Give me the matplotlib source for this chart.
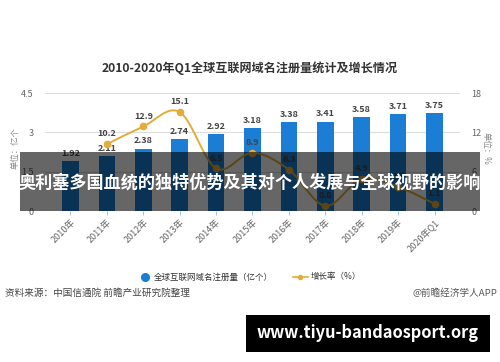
import numpy as np
import matplotlib
matplotlib.use("Agg")
import matplotlib.pyplot as plt
from matplotlib.path import Path
from matplotlib.patches import PathPatch, Rectangle

plt.rcParams['font.family'] = ['Noto Sans CJK SC', 'DejaVu Sans']

# 数据
years = ['2010年', '2011年', '2012年', '2013年', '2014年', '2015年',
         '2016年', '2017年', '2018年', '2019年', '2020年Q1']
domains = [1.92, 2.11, 2.38, 2.74, 2.92, 3.18, 3.38, 3.41, 3.58, 3.71, 3.75]
growth = [None, 10.2, 12.9, 15.1, 6.5, 8.9, 6.3, 0.8, 4.9, 3.7, 1.1]
left_ticks = [0, 1.5, 3, 4.5]
right_ticks = [0, 6, 12, 18]

bar_color = '#1b7dd3'
line_color = '#e3ad3b'
grey = '#666666'

fig = plt.figure(figsize=(5, 3.62), dpi=100)
ax = fig.add_axes([0.09, 0.417, 0.83, 0.326])
ax2 = ax.twinx()

x = np.arange(len(years))
ax.bar(x, domains, width=0.46, color=bar_color, zorder=2)
for xi, v in zip(x, domains):
    ax.text(xi, v + 0.12, f'{v:.2f}', ha='center', va='bottom',
            fontsize=6.5, fontweight='bold', color='#444444', zorder=3)

ax.set_ylim(0, 4.5)
ax.set_xlim(-0.7, 10.7)
ax.set_yticks(left_ticks)
ax.set_yticklabels(['0', '1.5', '3', '4.5'])
ax.grid(axis='y', color='#dddddd', linewidth=0.8, zorder=0)
ax.set_axisbelow(True)
for s in ax.spines.values():
    s.set_visible(False)
for s in ax2.spines.values():
    s.set_visible(False)
ax.tick_params(axis='y', length=0, labelsize=6.5, labelcolor=grey, pad=8)
ax.tick_params(axis='x', length=3, color='#9cc6ea', labelsize=6.5,
               labelcolor=grey, pad=2)
ax.set_xticks(x)
ax.set_xticklabels(years, rotation=45, ha='right', rotation_mode='anchor')

# 增长率曲线（平滑）
gx = [xi for xi, g in zip(x, growth) if g is not None]
gy = [g for g in growth if g is not None]
pts = np.column_stack([gx, gy]).astype(float)
verts = [tuple(pts[0])]
codes = [Path.MOVETO]
for i in range(len(pts) - 1):
    p0 = pts[i - 1] if i > 0 else pts[i]
    p1, p2 = pts[i], pts[i + 1]
    p3 = pts[i + 2] if i + 2 < len(pts) else pts[i + 1]
    c1 = p1 + (p2 - p0) / 6
    c2 = p2 - (p3 - p1) / 6
    verts += [tuple(c1), tuple(c2), tuple(p2)]
    codes += [Path.CURVE4] * 3
ax2.add_patch(PathPatch(Path(verts, codes), fill=False, edgecolor=line_color,
                        linewidth=1.4, zorder=4))
ax2.plot(gx, gy, 'o', color=line_color, markersize=4.5, zorder=5)
for xi, g in zip(gx, gy):
    ax2.text(xi, g + 0.9, f'{g}', ha='center', va='bottom', fontsize=6.5,
             fontweight='bold', color='#444444', zorder=6)
ax2.set_ylim(0, 18)
ax2.set_yticks(right_ticks)
ax2.tick_params(axis='y', length=0, labelsize=6.5, labelcolor=grey, pad=8)

# 标题与轴标签
fig.text(0.5, 0.812, '2010-2020年Q1全球互联网域名注册量统计及增长情况',
         ha='center', va='center', fontsize=8.7, fontweight='bold', color='#333333')
fig.text(0.03, 0.59, '单位：亿个', rotation=90, ha='center', va='center',
         fontsize=6, color='#888888')
fig.text(0.972, 0.59, '单位：%', rotation=-90, ha='center', va='center',
         fontsize=6, color='#888888')

# 图例
fig.lines.append(plt.Line2D([0.29], [0.235], marker='o', color=bar_color,
                            markersize=5.5, transform=fig.transFigure))
fig.text(0.308, 0.235, '全球互联网域名注册量（亿个）', ha='left', va='center',
         fontsize=6.1, color='#333333')
fig.lines.append(plt.Line2D([0.585, 0.615], [0.235, 0.235], color=line_color,
                            linewidth=1.2, transform=fig.transFigure))
fig.lines.append(plt.Line2D([0.6], [0.235], marker='o', color=line_color,
                            markersize=3, transform=fig.transFigure))
fig.text(0.622, 0.235, '增长率（%）', ha='left', va='center',
         fontsize=6.1, color='#333333')

fig.text(0.01, 0.19, '资料来源：中国信通院 前瞻产业研究院整理', ha='left',
         va='center', fontsize=6.9, color='#444444')
fig.text(0.995, 0.19, '@前瞻经济学人APP', ha='right', va='center',
         fontsize=6.9, color='#555555')

# 覆盖横幅
fig.patches.append(Rectangle((0.04, 0.417), 0.92, 0.163, transform=fig.transFigure,
                             facecolor='black', alpha=0.6, zorder=10))
fig.text(0.5, 0.495, '奥利塞多国血统的独特优势及其对个人发展与全球视野的影响',
         ha='center', va='center', fontsize=12.3, fontweight='bold',
         color='white', zorder=11)

# 底部网址
fig.patches.append(Rectangle((0.492, 0.028), 0.488, 0.102, transform=fig.transFigure,
                             facecolor='black', zorder=10))
fig.text(0.736, 0.079, 'www.tiyu-bandaosport.org', ha='center', va='center',
         fontsize=11.8, fontweight='bold', color='white', zorder=11)

fig.savefig('out.png', dpi=100)
